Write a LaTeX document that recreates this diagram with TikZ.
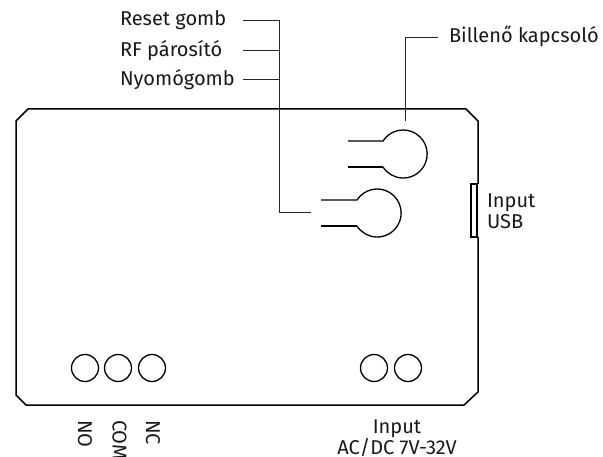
\documentclass[tikz,border=0pt]{standalone}
\usepackage{fontspec}
\setmainfont{Fira Sans}
\tikzset{
  board/.style={line width=1.5pt,black,line join=round},
  leader/.style={line width=0.9pt,black!85},
  hole/.style={circle,draw,line width=1.3pt,minimum size=27pt,inner sep=0pt,outer sep=0pt},
  lbl/.style={font=\fontsize{20pt}{24pt}\selectfont,text=black!90,inner sep=0pt,outer sep=0pt},
  sw/.style={line width=1.3pt,black},
}
\begin{document}
\begin{tikzpicture}[x=1pt,y=-1pt]
\useasboundingbox (0,0) rectangle (603,457);
% board
\draw[board] (478,184) -- (478,121) -- (466,109) -- (28,109) -- (16,121) -- (16,395) -- (26,405) -- (464,405) -- (478,392) -- (478,237);
% USB port
\draw[line width=1.2pt] (478,184) -- (471,184) -- (471,237) -- (478,237);
\draw[line width=1.2pt] (477,184) -- (477,237);
% switches
\draw[sw] (348,141) -- (383,141) arc[start angle=-147.2,end angle=147.2,radius=24,x=1pt,y=1pt];
\draw[sw] (383,167) -- (348,167);
\draw[sw] (321,200) -- (357,200) arc[start angle=-147.2,end angle=147.2,radius=24,x=1pt,y=1pt];
\draw[sw] (357,226) -- (321,226);
% holes
\node[hole] (h1) at (85,368) {};
\node[hole] (h2) at (118,368) {};
\node[hole] (h3) at (152,368) {};
\node[hole] (h4) at (374,368) {};
\node[hole] (h5) at (408,368) {};
% labels
\node[lbl,anchor=base west] (reset) at (120,25.5) {Reset gomb};
\node[lbl,anchor=base west] (rf) at (120,57) {RF párosító};
\node[lbl,anchor=base west] (nyomo) at (120,86) {Nyomógomb};
\node[lbl,anchor=base west] (bill) at (449,43) {Billenő kapcsoló};
\node[lbl,anchor=base west] (inusb) at (487,208) {Input};
\node[lbl,anchor=base west] (usb) at (487,229) {USB};
\node[lbl,anchor=base] (inac) at (397,433.5) {Input};
\node[lbl,anchor=base] (acdc) at (397,454) {AC/DC 7V-32V};
\node[lbl,rotate=-90,anchor=base west] (no) at (78,420) {NO};
\node[lbl,rotate=-90,anchor=base west] (com) at (112.5,420) {COM};
\node[lbl,rotate=-90,anchor=base west] (nc) at (146,420) {NC};
% leaders
\coordinate (rs) at (243,20);
\coordinate (rb) at (279,20);
\coordinate (fs) at (243,50);
\coordinate (fb) at (279,50);
\coordinate (ns) at (243,79);
\coordinate (nb) at (279,79);
\coordinate (lc) at (279,212);
\coordinate (le) at (311,212);
\coordinate (bs) at (438,37);
\coordinate (bc) at (405,37);
\coordinate (be) at (405,121);
\draw[leader] (rs) -- (rb) -- (lc) -- (le);
\draw[leader] (fs) -- (fb);
\draw[leader] (ns) -- (nb);
\draw[leader] (bs) -- (bc) -- (be);
\end{tikzpicture}
\end{document}
